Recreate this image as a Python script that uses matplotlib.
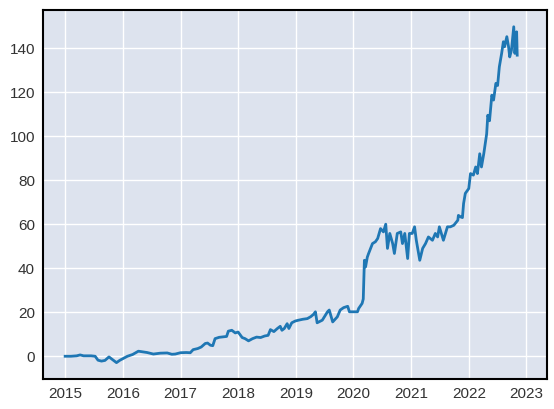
#!/usr/bin/env python3

import matplotlib
matplotlib.use('Agg')
import matplotlib.pyplot as plt
import matplotlib.dates as mdates
import pandas as pd

# decimal year, value
years = [
    2015.00, 2015.10, 2015.20, 2015.26, 2015.32, 2015.45, 2015.52, 2015.57,
    2015.63, 2015.69, 2015.76, 2015.82, 2015.89, 2015.95, 2016.02, 2016.08,
    2016.17, 2016.27, 2016.35, 2016.42, 2016.53, 2016.65, 2016.77, 2016.85,
    2016.91, 2017.00, 2017.10, 2017.17, 2017.22, 2017.30, 2017.36, 2017.43,
    2017.47, 2017.52, 2017.56, 2017.60, 2017.67, 2017.74, 2017.80, 2017.83,
    2017.89, 2017.95, 2018.00, 2018.07, 2018.12, 2018.18, 2018.25, 2018.32,
    2018.39, 2018.46, 2018.52, 2018.56, 2018.62, 2018.68, 2018.73, 2018.76,
    2018.80, 2018.85, 2018.88, 2018.93, 2018.99, 2019.05, 2019.12, 2019.20,
    2019.26, 2019.31, 2019.34, 2019.37, 2019.46, 2019.55, 2019.58, 2019.64,
    2019.72, 2019.77, 2019.83, 2019.90, 2019.93, 2020.07, 2020.09, 2020.15,
    2020.17, 2020.19, 2020.21, 2020.24, 2020.26, 2020.33, 2020.38, 2020.42,
    2020.47, 2020.52, 2020.56, 2020.59, 2020.63, 2020.68, 2020.71, 2020.76,
    2020.82, 2020.85, 2020.89, 2020.94, 2020.97, 2021.02, 2021.06, 2021.09,
    2021.15, 2021.20, 2021.25, 2021.30, 2021.37, 2021.42, 2021.46, 2021.49,
    2021.56, 2021.63, 2021.68, 2021.74, 2021.81, 2021.82, 2021.86, 2021.89,
    2021.91, 2021.94, 2022.00, 2022.03, 2022.08, 2022.12, 2022.15, 2022.19,
    2022.22, 2022.26, 2022.31, 2022.33, 2022.36, 2022.40, 2022.43, 2022.47,
    2022.50, 2022.53, 2022.57, 2022.60, 2022.62, 2022.66, 2022.69, 2022.71,
    2022.74, 2022.78, 2022.80, 2022.83, 2022.84,
]
values = [
    0.0, 0.0, 0.2, 0.6, 0.2, 0.2, 0.0, -1.8,
    -2.2, -1.9, -0.3, -1.5, -2.9, -1.8, -0.8, 0.0,
    0.8, 2.3, 2.0, 1.7, 1.0, 1.4, 1.5, 0.9,
    1.0, 1.6, 1.7, 1.6, 3.0, 3.5, 4.2, 5.8,
    6.0, 5.0, 4.8, 8.0, 8.6, 8.8, 9.0, 11.4,
    11.8, 10.6, 11.0, 8.5, 8.0, 7.0, 8.0, 8.7,
    8.5, 9.2, 9.5, 12.1, 11.2, 12.6, 13.6, 11.8,
    12.6, 14.8, 12.6, 15.2, 16.0, 16.4, 16.8, 17.1,
    18.0, 19.1, 20.2, 15.2, 16.4, 20.2, 21.0, 15.6,
    17.9, 21.0, 22.1, 22.7, 20.2, 20.2, 21.7, 24.0,
    26.0, 43.6, 40.6, 45.0, 46.5, 51.2, 52.0, 53.5,
    58.0, 56.5, 60.0, 49.0, 55.8, 51.2, 46.7, 55.8,
    56.5, 51.2, 55.8, 44.4, 55.8, 55.8, 58.8, 52.7,
    43.6, 49.0, 51.2, 54.2, 52.7, 55.8, 54.2, 58.8,
    52.7, 58.8, 58.8, 59.5, 61.8, 64.0, 63.3, 63.0,
    69.4, 74.0, 76.2, 83.0, 82.3, 86.0, 83.0, 92.0,
    86.0, 92.0, 101.0, 109.5, 107.0, 118.6, 116.4, 124.0,
    123.0, 131.5, 137.6, 142.9, 140.6, 145.2, 140.6, 136.0,
    139.0, 149.7, 137.6, 147.4, 136.8,
]

dates = [pd.Timestamp('2015-01-01') + pd.Timedelta(days=(y - 2015) * 365.25) for y in years]

fig = plt.figure(figsize=(5.54, 4.09), dpi=100)
ax = fig.add_axes([0.078, 0.073, 0.909, 0.903])
ax.set_facecolor('#dde3ee')

ax.plot(dates, values, color='#1f77b4', linewidth=2)

ax.set_xlim(pd.Timestamp('2014-08-15'), pd.Timestamp('2023-05-10'))
ax.set_ylim(-10.4, 157.4)
ax.xaxis.set_major_locator(mdates.YearLocator())
ax.xaxis.set_major_formatter(mdates.DateFormatter('%Y'))
ax.set_yticks([0, 20, 40, 60, 80, 100, 120, 140])

ax.grid(True, color='white', linewidth=1)
ax.set_axisbelow(True)
for s in ax.spines.values():
    s.set_color('black')
    s.set_linewidth(1.5)
ax.tick_params(length=0, pad=6, labelsize=11, labelcolor='#333333')
for lbl in ax.get_xticklabels() + ax.get_yticklabels():
    lbl.set_fontfamily('Liberation Sans')

fig.savefig('out.png', dpi=100)
